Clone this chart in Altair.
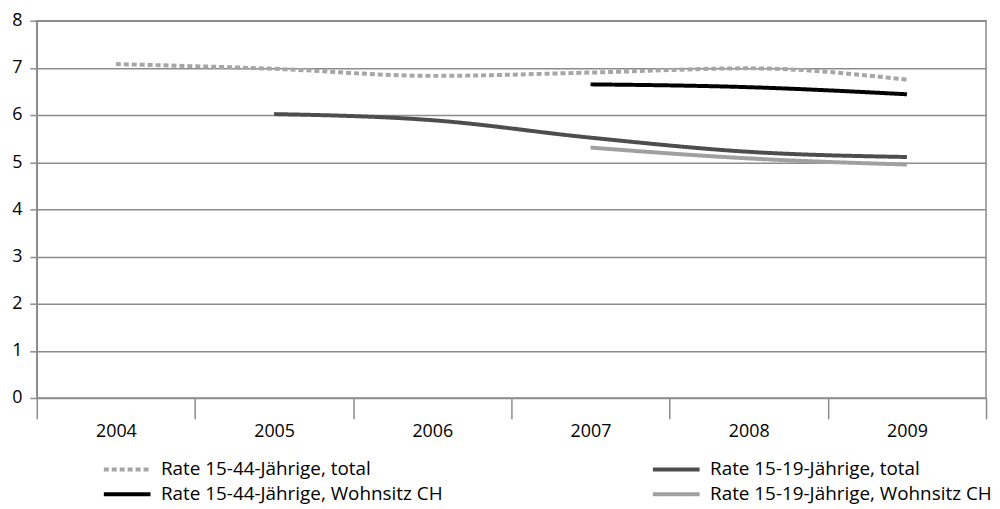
import altair as alt
import pandas as pd

years = ["2004", "2005", "2006", "2007", "2008", "2009"]
series_names = [
    "Rate 15-44-Jährige, total",
    "Rate 15-44-Jährige, Wohnsitz CH",
    "Rate 15-19-Jährige, total",
    "Rate 15-19-Jährige, Wohnsitz CH",
]
rate_1544_total = [7.08, 6.98, 6.83, 6.90, 6.99, 6.75]
rate_1544_ch = [None, None, None, 6.65, 6.59, 6.44]
rate_1519_total = [None, 6.02, 5.89, 5.52, 5.22, 5.11]
rate_1519_ch = [None, None, None, 5.31, 5.08, 4.95]

colors = ["#a6a6a6", "#000000", "#4d4d4d", "#a0a0a0"]
dashes = [[5, 3], [1, 0], [1, 0], [1, 0]]

rows = []
for name, vals in zip(series_names, [rate_1544_total, rate_1544_ch, rate_1519_total, rate_1519_ch]):
    for y, v in zip(years, vals):
        if v is not None:
            rows.append({"year": y, "series": name, "value": v})
df = pd.DataFrame(rows)

FONT = "Open Sans"
GRID = "#8c8c8c"

chart = alt.Chart(df).mark_line(strokeWidth=4, interpolate="monotone", strokeCap="butt").encode(
    x=alt.X("year:N", bandPosition=0.5,
            scale=alt.Scale(type="band", domain=years, paddingInner=0, paddingOuter=0),
            axis=alt.Axis(title=None, labelAngle=0, domain=False, tickBand="extent",
                          tickSize=21, tickColor=GRID, tickWidth=1.5, labelPadding=4,
                          labelFontSize=18, labelFont=FONT, labelColor="#000")),
    y=alt.Y("value:Q", scale=alt.Scale(domain=[0, 8], nice=False),
            axis=alt.Axis(title=None, values=list(range(9)), grid=True, gridColor=GRID,
                          gridWidth=1.5, domainColor=GRID, domainWidth=1.5, tickColor=GRID,
                          tickWidth=1.5, tickSize=7, labelPadding=8, labelFontSize=18,
                          labelFont=FONT, labelColor="#000")),
    color=alt.Color("series:N", scale=alt.Scale(domain=series_names, range=colors),
                    legend=alt.Legend(title=None, orient="none", legendX=77, legendY=438,
                                      columns=2, columnPadding=203, rowPadding=1,
                                      symbolType="M-2,0H2", symbolSize=552, symbolStrokeWidth=4,
                                      labelFont=FONT, labelFontSize=19, labelColor="#000",
                                      labelOffset=20, labelLimit=0)),
    strokeDash=alt.StrokeDash("series:N", scale=alt.Scale(domain=series_names, range=dashes)),
).properties(
    width=956, height=380,
    autosize=alt.AutoSizeParams(type="none"),
    padding={"left": 29, "top": 11, "right": 6, "bottom": 110},
).configure_view(stroke=GRID, strokeWidth=1.5)

chart.save("out.html", embed_options={"renderer": "svg", "actions": False})
